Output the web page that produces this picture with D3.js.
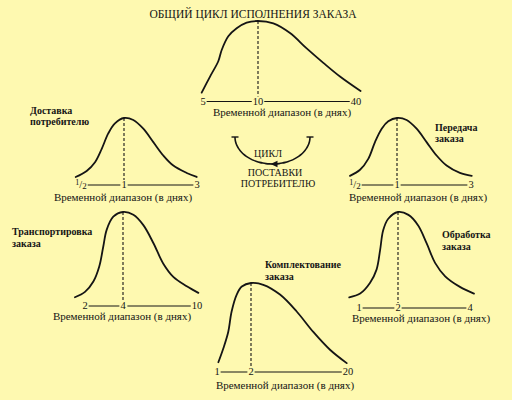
<!DOCTYPE html>
<html>
<head>
<meta charset="utf-8">
<script src="https://cdn.jsdelivr.net/npm/d3@7"></script>
<style>
  html, body { margin: 0; padding: 0; background: #FEF9B0; }
  svg { display: block; }
  text { font-family: "Liberation Serif", "DejaVu Serif", serif; fill: #151515; }
</style>
</head>
<body>
<svg id="chart" width="512" height="400"></svg>
<script>
// ---- Data: time ranges (days) and relative frequency curves [day, share of peak] ----
const overallTitle = "ОБЩИЙ ЦИКЛ ИСПОЛНЕНИЯ ЗАКАЗА";
const axisCaption = "Временной диапазон (в днях)";

const overallTicks = [5, 10, 40];
const overallPeak = 10;
const overallCurve = [[4.88,0.11],[5.64,0.31],[6.39,0.50],[6.70,0.64],[7.30,0.81],[8.06,0.91],[8.97,0.98],
  [10,1],[14.7,0.97],[19.8,0.85],[24.9,0.66],[30.0,0.48],[35.1,0.31],[41.4,0.13]];

const deliveryLabel = ["Доставка", "потребителю"];
const deliveryTicks = [0.5, 1, 3];
const deliveryPeak = 1;
const deliveryCurve = [[0.438,0.12],[0.566,0.21],[0.663,0.34],[0.741,0.54],[0.817,0.77],[0.895,0.92],
  [1,1],[1.255,0.97],[1.529,0.84],[1.803,0.64],[2.077,0.44],[2.351,0.29],[2.718,0.18],[2.992,0.12]];

const transmitLabel = ["Передача", "заказа"];
const transmitTicks = [0.5, 1, 3];
const transmitPeak = 1;
const transmitCurve = [[0.44,0.136],[0.56,0.227],[0.658,0.39],[0.738,0.64],[0.818,0.84],[0.896,0.95],
  [1,1],[1.26,0.97],[1.53,0.84],[1.80,0.64],[2.07,0.44],[2.34,0.29],[2.70,0.18],[3.02,0.136]];

const transportLabel = ["Транспортировка", "заказа"];
const transportTicks = [2, 4, 10];
const transportPeak = 4;
const transportCurve = [[1.47,0.093],[2.0,0.15],[2.44,0.26],[2.75,0.42],[2.96,0.63],[3.14,0.81],[3.49,0.95],
  [4,1],[4.84,0.97],[5.65,0.86],[6.46,0.67],[7.27,0.45],[8.08,0.31],[9.17,0.21],[10.11,0.14]];

const processLabel = ["Обработка", "заказа"];
const processTicks = [1, 2, 4];
const processPeak = 2;
const processCurve = [[0.75,0.11],[1.03,0.15],[1.28,0.26],[1.45,0.40],[1.54,0.60],[1.62,0.81],[1.75,0.93],
  [2,1],[2.29,0.97],[2.56,0.86],[2.80,0.67],[3.03,0.47],[3.31,0.33],[3.72,0.22],[4.11,0.15]];

const pickingLabel = ["Комплектование", "заказа"];
const pickingTicks = [1, 2, 20];
const pickingPeak = 2;
const pickingCurve = [[1.04,0.11],[1.19,0.27],[1.33,0.45],[1.43,0.68],[1.58,0.87],[1.73,0.96],
  [2,1],[4.28,0.98],[7.38,0.87],[10.48,0.68],[13.56,0.45],[16.66,0.25],[19.76,0.10]];

const cycleLabel = ["ЦИКЛ", "ПОСТАВКИ", "ПОТРЕБИТЕЛЮ"];

// ---- Layout of each small chart ----
const panels = [
  { ticks: overallTicks, peak: overallPeak, curve: overallCurve, label: null,
    xr: [203, 258, 356], axisY: 101.5, topY: 21, caption: [282, 115.5] },
  { ticks: deliveryTicks, peak: deliveryPeak, curve: deliveryCurve, label: deliveryLabel,
    labelPos: [30, 113.5, 11], xr: [81, 124, 197], axisY: 185, topY: 118, caption: [123, 200.5] },
  { ticks: transmitTicks, peak: transmitPeak, curve: transmitCurve, label: transmitLabel,
    labelPos: [435, 131, 11], xr: [355, 397, 471], axisY: 185, topY: 118, caption: [418, 201] },
  { ticks: transportTicks, peak: transportPeak, curve: transportCurve, label: transportLabel,
    labelPos: [12, 235, 12], xr: [85, 123, 197], axisY: 306, topY: 212, caption: [122, 320] },
  { ticks: processTicks, peak: processPeak, curve: processCurve, label: processLabel,
    labelPos: [442, 238, 11.5], xr: [359, 398, 470], axisY: 308, topY: 212, caption: [421, 322] },
  { ticks: pickingTicks, peak: pickingPeak, curve: pickingCurve, label: pickingLabel,
    labelPos: [265, 268, 12], xr: [217, 251, 348], axisY: 372, topY: 283, caption: [285, 388.5] }
];

const ink = "#151515";
const svg = d3.select("#chart");

// Overall title
svg.append("text")
  .attr("x", 253).attr("y", 18)
  .attr("text-anchor", "middle")
  .attr("font-size", 11.5)
  .text(overallTitle);

function tickLabel(sel, v) {
  if (v === 0.5) {
    sel.append("tspan").attr("font-size", 8).attr("dy", -3).text("1");
    sel.append("tspan").attr("font-size", 10.5).attr("dy", 3).text("/");
    sel.append("tspan").attr("font-size", 9).attr("dy", 1).text("2");
  } else {
    sel.text(v);
  }
}

panels.forEach(p => {
  const g = svg.append("g");
  const x = d3.scaleLinear().domain(p.ticks).range(p.xr);
  const y = d3.scaleLinear().domain([0, 1]).range([p.axisY, p.topY]);

  // Tick labels on the time axis
  const labels = p.ticks.map(v => {
    const t = g.append("text")
      .attr("x", x(v)).attr("y", p.axisY + 3.3)
      .attr("text-anchor", "middle")
      .attr("font-size", 10.5);
    tickLabel(t, v);
    return t.node().getBBox();
  });
  // Axis line segments between labels
  for (let i = 0; i < labels.length - 1; i++) {
    g.append("line")
      .attr("x1", labels[i].x + labels[i].width + 1)
      .attr("x2", labels[i + 1].x - 1)
      .attr("y1", p.axisY).attr("y2", p.axisY)
      .attr("stroke", ink).attr("stroke-width", 1);
  }

  // Dashed marker at the most frequent time
  g.append("line")
    .attr("x1", x(p.peak)).attr("x2", x(p.peak))
    .attr("y1", y(1)).attr("y2", p.axisY - 5)
    .attr("stroke", ink).attr("stroke-width", 1.1)
    .attr("stroke-dasharray", "3,2");

  // Distribution curve
  const line = d3.line()
    .x(d => x(d[0])).y(d => y(d[1]))
    .curve(d3.curveCatmullRom.alpha(0.5));
  g.append("path")
    .datum(p.curve)
    .attr("d", line)
    .attr("fill", "none")
    .attr("stroke", ink).attr("stroke-width", 1.8)
    .attr("stroke-linecap", "round");

  // Axis caption
  g.append("text")
    .attr("x", p.caption[0]).attr("y", p.caption[1])
    .attr("text-anchor", "middle")
    .attr("font-size", 11)
    .text(axisCaption);

  // Stage name
  if (p.label) {
    p.label.forEach((s, i) => {
      g.append("text")
        .attr("x", p.labelPos[0]).attr("y", p.labelPos[1] + i * p.labelPos[2])
        .attr("font-size", 10)
        .attr("font-weight", "bold")
        .text(s);
    });
  }
});

// Cycle symbol in the centre: half-ellipse with end bars and a leftward arrow
const cx = 272.5, cy = 137, rx = 37.5, ry = 27;
const arcPts = d3.range(0, 181, 5).map(a => {
  const t = a * Math.PI / 180;
  return [cx + rx * Math.cos(t), cy + ry * Math.sin(t)];
});
svg.append("path")
  .attr("d", d3.line().curve(d3.curveCatmullRom)(arcPts))
  .attr("fill", "none").attr("stroke", ink).attr("stroke-width", 1.6);
[cx - rx, cx + rx].forEach(ex => {
  svg.append("line")
    .attr("x1", ex - 3.5).attr("x2", ex + 3.5)
    .attr("y1", cy).attr("y2", cy)
    .attr("stroke", ink).attr("stroke-width", 1.4);
});
svg.append("path")
  .attr("d", d3.line()([[cx - 2, cy + ry], [cx + 5, cy + ry - 3.2], [cx + 5, cy + ry + 3.2]]) + "Z")
  .attr("fill", ink);

cycleLabel.forEach((s, i) => {
  svg.append("text")
    .attr("x", [268, 275, 278][i])
    .attr("y", [157, 176, 186.5][i])
    .attr("text-anchor", "middle")
    .attr("font-size", 10)
    .text(s);
});
</script>
</body>
</html>
